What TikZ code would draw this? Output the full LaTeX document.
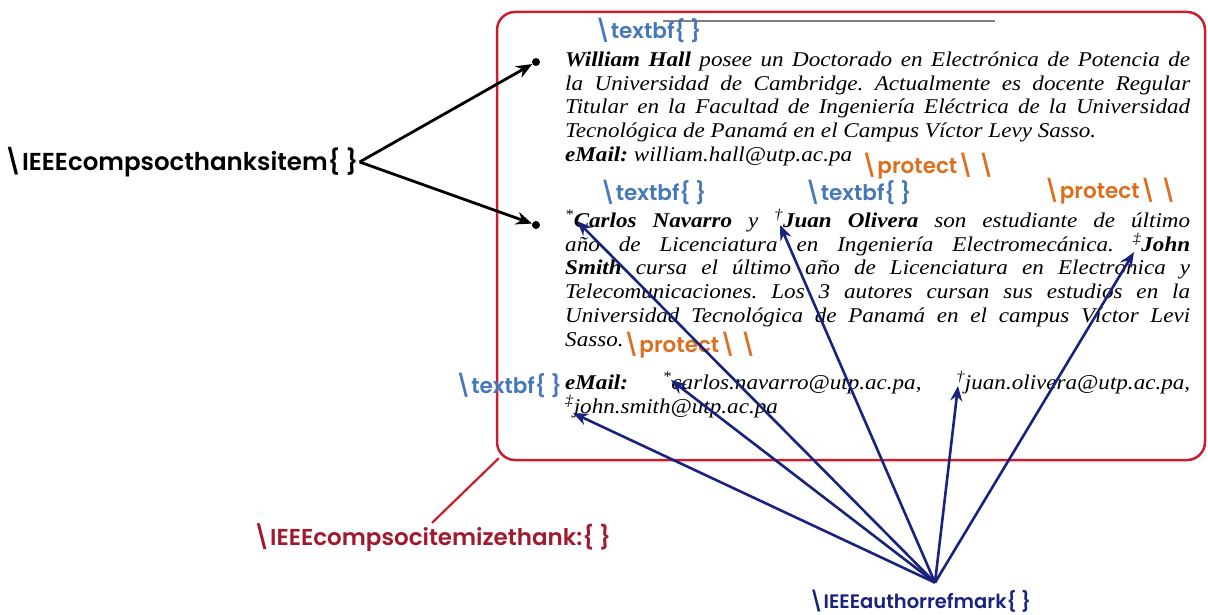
\documentclass[tikz,border=0pt]{standalone}
\usepackage{fontspec}
\setmainfont{Liberation Serif}[FakeStretch=1.1]
\newfontfamily\gothic{Poppins SemiBold}
\usetikzlibrary{arrows,arrows.meta}
\definecolor{boxred}{RGB}{200,30,45}
\definecolor{labelred}{RGB}{160,25,45}
\definecolor{navy}{RGB}{25,35,125}
\definecolor{texblue}{RGB}{70,120,185}
\definecolor{texorange}{RGB}{220,110,30}
\newcommand{\jline}[1]{\makebox[625pt][s]{#1}}
\newcommand{\bs}{\textbackslash}
\frenchspacing

\begin{document}
\begin{tikzpicture}[x=1pt,y=-1pt,
lbl/.style={font=\gothic\fontsize{24.5}{26}\selectfont,inner sep=1pt},
texlbl/.style={font=\gothic\fontsize{21.5}{23}\selectfont,text=texblue,inner sep=1pt},
protlbl/.style={font=\gothic\fontsize{21.5}{23}\selectfont,text=texorange,inner sep=1pt},
txtline/.style={anchor=base west,inner sep=0pt,font=\fontsize{21}{24}\selectfont\itshape},
bullet/.style={circle,fill=black,inner sep=0pt,minimum size=8pt},
arrow/.style={-{Stealth[length=16pt,width=13pt]},line width=2.8pt},
refarrow/.style={-{Stealth[length=15pt,width=12pt]},line width=2.6pt,draw=navy}]

\useasboundingbox (0,0) rectangle (1208,615);

\node[draw=boxred,line width=2.5pt,rounded corners=18pt,minimum width=708,minimum height=448] (thanksbox) at (851,236) {};

\draw[gray,line width=1.5pt] (663,21) -- (995,21);

\node[texlbl] (bfA) at (648,30) {\bs textbf\{ \}};

\node[bullet] (item1) at (536,62) {};

\node[bullet] (item2) at (536,225) {};

\node[txtline] (l1) at (565,66.5) {\jline{\textbf{William Hall} posee un Doctorado en Electrónica de Potencia de}};

\node[txtline] (l2) at (565,90.2) {\jline{la Universidad de Cambridge. Actualmente es docente Regular}};

\node[txtline] (l3) at (565,113.9) {\jline{Titular en la Facultad de Ingeniería Eléctrica de la Universidad}};

\node[txtline] (l4) at (565,137.6) {Tecnológica de Panamá en el Campus Víctor Levy Sasso.};

\node[txtline] (l5) at (565,161.3) {\textbf{eMail:} william.hall@utp.ac.pa};

\node[protlbl,anchor=west] (protA) at (860,166) {\bs protect\bs\hspace{0.2em}\bs};

\node[texlbl] (bfB) at (653,192) {\bs textbf\{ \}};

\node[texlbl] (bfC) at (858,192) {\bs textbf\{ \}};

\node[protlbl] (protB) at (1110,191) {\bs protect\bs\hspace{0.2em}\bs};

\node[txtline] (l6) at (565,227.5) {\jline{\textsuperscript{*}\textbf{Carlos Navarro} y \textsuperscript{†}\textbf{Juan Olivera} son estudiante de último}};

\node[txtline] (l7) at (565,251.2) {\jline{año de Licenciatura en Ingeniería Electromecánica. \textsuperscript{‡}\textbf{John}}};

\node[txtline] (l8) at (565,274.9) {\jline{\textbf{Smith} cursa el último año de Licenciatura en Electrónica y}};

\node[txtline] (l9) at (565,298.6) {\jline{Telecomunicaciones. Los 3 autores cursan sus estudios en la}};

\node[txtline] (l10) at (565,322.3) {\jline{Universidad Tecnológica de Panamá en el campus Víctor Levi}};

\node[txtline] (l11) at (565,346) {Sasso.};

\node[protlbl,anchor=west] (protC) at (622,345) {\bs protect\bs\hspace{0.2em}\bs};

\node[texlbl,anchor=east] (bfD) at (563,385) {\bs textbf\{ \}};

\node[txtline] (l12) at (565,389.5) {\jline{\textbf{eMail:} \textsuperscript{*}carlos.navarro@utp.ac.pa, \textsuperscript{†}juan.olivera@utp.ac.pa,}};

\node[txtline] (l13) at (565,413.2) {\textsuperscript{‡}john.smith@utp.ac.pa};

\node[lbl] (thanksitem) at (181,162) {\bs IEEEcompsocthanksitem\{ \}};

\node[lbl,text=labelred,font=\gothic\fontsize{23}{25}\selectfont] (itemizethank) at (432,538) {\bs IEEEcompsocitemizethank:\{ \}};

\node[lbl,text=navy,font=\gothic\fontsize{19.5}{21}\selectfont] (authorref) at (920,601) {\bs IEEEauthorrefmark\{ \}};

\coordinate (mkA) at (577,221);

\coordinate (mkB) at (780,225);

\coordinate (mkC) at (1134,252);

\coordinate (mkD) at (671,380);

\coordinate (mkE) at (958,386);

\coordinate (mkF) at (573,413);

\draw[arrow] (thanksitem.east) -- (item1);

\draw[arrow] (thanksitem.east) -- (item2);

\draw[boxred,line width=2.2pt] ([shift={(3,-3)}]thanksbox.south west) -- (itemizethank.north);

\foreach \m in {mkA,mkB,mkC,mkD,mkE,mkF}
  \draw[refarrow] ([xshift=15pt,yshift=6pt]authorref.north) -- (\m);

\end{tikzpicture}
\end{document}
